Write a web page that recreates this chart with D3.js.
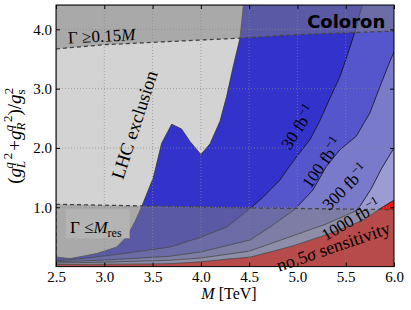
<!DOCTYPE html>
<html>
<head>
<meta charset="utf-8">
<script src="https://cdn.jsdelivr.net/npm/d3@7"></script>
<style>
  body { margin: 0; background: #fff; }
  svg text { font-family: "Liberation Serif", "DejaVu Serif", serif; fill: #000; }
  svg text.coloron { font-family: "DejaVu Sans", sans-serif; font-weight: bold; }
</style>
</head>
<body>
<div id="chart"></div>
<script>
// axis ticks
const xTicks = [2.5, 3.0, 3.5, 4.0, 4.5, 5.0, 5.5, 6.0];
const yTicks = [1.0, 2.0, 3.0, 4.0];

// 5 sigma reach contours, points [M, g] from the left edge to where they leave the plot
const lumis = ["30", "100", "300", "1000"];
const line30 = [[2.5, 0.10], [2.8, 0.14], [3.2, 0.22], [3.68, 0.33], [3.99, 0.49], [4.27, 0.67],
  [4.51, 0.98], [4.65, 1.18], [4.82, 1.46], [4.90, 1.65], [5.0, 1.87], [5.13, 2.14], [5.23, 2.45],
  [5.34, 2.85], [5.44, 3.2], [5.52, 3.58], [5.60, 3.98], [5.67, 4.41]];
const line100 = [[2.5, 0.08], [3.0, 0.11], [3.68, 0.175], [4.01, 0.25], [4.51, 0.45], [4.72, 0.67],
  [4.975, 0.97], [5.16, 1.29], [5.30, 1.69], [5.44, 1.97], [5.61, 2.2], [5.75, 2.59], [5.87, 3.10],
  [5.96, 3.47], [6.0, 3.62]];
const line300 = [[2.5, 0.06], [3.0, 0.075], [3.68, 0.107], [4.0, 0.145], [4.5, 0.26], [4.92, 0.5],
  [5.3, 0.72], [5.62, 0.95], [5.76, 1.3], [5.87, 1.65], [6.0, 2.0]];
const line1000 = [[2.5, 0.035], [3.0, 0.04], [3.5, 0.045], [3.68, 0.05], [4.0, 0.08], [4.3, 0.13],
  [4.51, 0.16], [4.75, 0.26], [4.975, 0.36], [5.34, 0.56], [5.68, 0.78], [5.87, 0.99], [6.0, 1.12]];
const lines = [line30, line100, line300, line1000];

// LHC exclusion boundary
const lhcEdge = [[4.44, 4.41], [4.405, 3.85], [4.336, 3.38], [4.267, 2.87], [4.198, 2.45], [4.095, 2.07],
  [4.0, 1.89], [3.887, 2.11], [3.80, 2.32], [3.698, 2.40], [3.594, 2.08], [3.508, 1.50], [3.387, 1.01],
  [3.318, 0.76], [3.23, 0.50], [3.128, 0.33], [2.92, 0.22], [2.645, 0.135], [2.507, 0.16], [2.5, 0.16]];

// width limits (dashed)
const wideEdge = [[2.5, 3.67], [3.0, 3.74], [4.0, 3.82], [4.4, 3.85], [5.0, 3.91], [6.0, 3.97]];
const resEdge = [[2.5, 1.05], [3.5, 1.02], [4.5, 0.99], [6.0, 0.96]];

const xMin = 2.5, xMax = 6.0, yMin = 0, yMax = 4.41;

const blues = ["#3333cc", "#5656cc", "#7a7acb", "#9c9cd2"];
const red = "#ee1414";
const serif = "'Liberation Serif', 'DejaVu Serif', serif";

const margin = {top: 5, right: 17, bottom: 43.4, left: 56};
const width = 411 - margin.left - margin.right;
const height = 310 - margin.top - margin.bottom;

const svg = d3.select("#chart").append("svg")
  .attr("width", 411)
  .attr("height", 310)
  .style("background", "#fff");

const g = svg.append("g")
  .attr("transform", "translate(" + margin.left + "," + margin.top + ")");

const x = d3.scaleLinear().domain([xMin, xMax]).range([0, width]);
const y = d3.scaleLinear().domain([yMin, yMax]).range([height, 0]);

const line = d3.line().x(d => x(d[0])).y(d => y(d[1]));

g.append("defs").append("clipPath").attr("id", "clip")
  .append("rect").attr("width", width).attr("height", height);

const plot = g.append("g").attr("clip-path", "url(#clip)");

// no sensitivity everywhere, then the reach regions on top
plot.append("rect").attr("width", width).attr("height", height).attr("fill", red);

function regionOf(pts) {
  let last = pts[pts.length - 1];
  let closing = last[0] >= xMax ? [[xMax, yMax], [xMin, yMax]] : [[xMin, yMax]];
  return line(pts.concat(closing)) + "Z";
}

for (let i = lines.length - 1; i >= 0; i--) {
  plot.append("path")
    .attr("d", regionOf(lines[i]))
    .attr("fill", blues[i]);
}
lines.forEach(pts => {
  plot.append("path")
    .attr("d", line(pts))
    .attr("fill", "none")
    .attr("stroke", "#111")
    .attr("stroke-width", 0.8);
});

// LHC exclusion
plot.append("path")
  .attr("d", line(lhcEdge.concat([[xMin, yMax]])) + "Z")
  .attr("fill", "#d3d3d3")
  .attr("stroke", "#333")
  .attr("stroke-width", 0.8);

// width regions, shaded
plot.append("path")
  .attr("d", line(wideEdge.concat([[xMax, yMax], [xMin, yMax]])) + "Z")
  .attr("fill", "#808080").attr("fill-opacity", 0.5);
plot.append("path")
  .attr("d", line(resEdge.concat([[xMax, yMin], [xMin, yMin]])) + "Z")
  .attr("fill", "#808080").attr("fill-opacity", 0.5);

[wideEdge, resEdge].forEach(pts => {
  plot.append("path")
    .attr("d", line(pts))
    .attr("fill", "none")
    .attr("stroke", "#444")
    .attr("stroke-width", 1.3)
    .attr("stroke-dasharray", "4,3");
});
plot.append("path")
  .attr("d", line([[xMin, resEdge[0][1]], [xMin, yMin]]))
  .attr("stroke", "#444").attr("stroke-width", 1.3).attr("stroke-dasharray", "4,3");

// dotted grid
g.append("g").selectAll("line").data(xTicks.slice(1, -1)).join("line")
  .attr("x1", d => x(d)).attr("x2", d => x(d)).attr("y1", 0).attr("y2", height)
  .attr("stroke", "#888").attr("stroke-width", 0.7).attr("stroke-dasharray", "1,2");
g.append("g").selectAll("line").data(yTicks).join("line")
  .attr("x1", 0).attr("x2", width).attr("y1", d => y(d)).attr("y2", d => y(d))
  .attr("stroke", "#888").attr("stroke-width", 0.7).attr("stroke-dasharray", "1,2");

// axes with inward ticks
const xAxis = d3.axisBottom(x).tickValues(xTicks).tickFormat(d3.format(".1f")).tickSizeInner(-4).tickSizeOuter(0).tickPadding(5);
const yAxis = d3.axisLeft(y).tickValues(yTicks).tickFormat(d3.format(".1f")).tickSizeInner(-4).tickSizeOuter(0).tickPadding(4);

g.append("g").attr("transform", "translate(0," + height + ")").call(xAxis)
  .attr("font-family", serif).attr("font-size", 15)
  .call(a => a.select(".domain").remove());
g.append("g").call(yAxis)
  .attr("font-family", serif).attr("font-size", 15)
  .call(a => a.select(".domain").remove());
g.append("g").call(d3.axisTop(x).tickValues(xTicks).tickFormat("").tickSizeInner(-4).tickSizeOuter(0))
  .call(a => a.select(".domain").remove());
g.append("g").attr("transform", "translate(" + width + ",0)")
  .call(d3.axisRight(y).tickValues(yTicks).tickFormat("").tickSizeInner(-4).tickSizeOuter(0))
  .call(a => a.select(".domain").remove());

g.append("rect").attr("width", width).attr("height", height)
  .attr("fill", "none").attr("stroke", "#000").attr("stroke-width", 1);

// axis titles
const xt = g.append("text")
  .attr("x", width / 2 + 4).attr("y", height + 32)
  .attr("text-anchor", "middle").attr("font-size", 16);
xt.append("tspan").attr("font-style", "italic").text("M");
xt.append("tspan").text(" [TeV]");

const yt = svg.append("text")
  .attr("transform", "translate(21," + (margin.top + height / 2) + ") rotate(-90)")
  .attr("text-anchor", "middle").attr("font-size", 19);
yt.append("tspan").text("(");
yt.append("tspan").attr("font-style", "italic").text("g");
yt.append("tspan").attr("font-style", "italic").attr("font-size", 13).attr("dy", 4).text("L");
yt.append("tspan").attr("font-style", "italic").attr("font-size", 13).attr("dx", -8).attr("dy", -12).text("q");
yt.append("tspan").attr("font-size", 13).attr("dx", 3).attr("dy", -1).text("2");
yt.append("tspan").attr("dx", 2).attr("dy", 9).text("+");
yt.append("tspan").attr("font-style", "italic").text("g");
yt.append("tspan").attr("font-style", "italic").attr("font-size", 13).attr("dy", 4).text("R");
yt.append("tspan").attr("font-style", "italic").attr("font-size", 13).attr("dx", -9).attr("dy", -12).text("q");
yt.append("tspan").attr("font-size", 13).attr("dx", 3).attr("dy", -1).text("2");
yt.append("tspan").attr("dy", 9).text(")/");
yt.append("tspan").attr("font-style", "italic").text("g");
yt.append("tspan").attr("font-size", 13).attr("dy", 4).text("s");
yt.append("tspan").attr("font-size", 13).attr("dx", -5).attr("dy", -12).text("2");

// annotations
function note(m, v, rot, size, anchor) {
  return g.append("text")
    .attr("transform", "translate(" + x(m) + "," + y(v) + ") rotate(" + rot + ")")
    .attr("text-anchor", anchor || "middle")
    .attr("dy", "0.35em")
    .attr("font-size", size);
}
function fbNote(lab, m, v, rot) {
  let t = note(m, v, rot, 17);
  t.append("tspan").text(lab + " fb");
  t.append("tspan").attr("font-size", 12).attr("dy", -7).text("\u22121");
}
fbNote(lumis[0], 5.006, 2.35, -57);
fbNote(lumis[1], 5.254, 1.75, -55);
fbNote(lumis[2], 5.493, 1.34, -45);
fbNote(lumis[3], 5.555, 0.79, -30);

let ns = note(5.37, 0.34, -19, 18);
ns.append("tspan").text("no 5");
ns.append("tspan").attr("font-style", "italic").text("\u03c3");
ns.append("tspan").text(" sensitivity");

note(3.31, 2.39, -72, 18.5).text("LHC exclusion");

let wide = note(2.624, 3.86, -3, 17, "start");
wide.append("tspan").text("\u0393 \u22650.15");
wide.append("tspan").attr("font-style", "italic").text("M");

g.append("rect")
  .attr("x", x(2.6)).attr("y", y(1.0) + 2).attr("width", 64).attr("height", 29)
  .attr("fill", "#b4b4b4");
let res = note(2.645, 0.66, 0, 17, "start");
res.append("tspan").text("\u0393 \u2264");
res.append("tspan").attr("font-style", "italic").text("M");
res.append("tspan").attr("font-size", 12).attr("dy", 4).text("res");

g.append("text").attr("class", "coloron")
  .attr("x", x(5.91)).attr("y", y(4.03))
  .attr("text-anchor", "end").attr("font-size", 18)
  .text("Coloron");
</script>
</body>
</html>
